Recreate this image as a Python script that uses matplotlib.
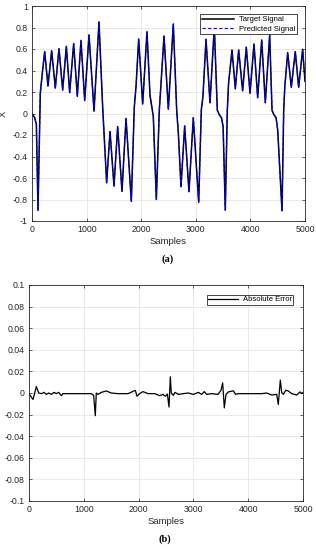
import matplotlib
matplotlib.use("Agg")
import matplotlib.pyplot as plt
from matplotlib.ticker import FuncFormatter

plt.rcParams['font.family'] = ['Liberation Sans', 'DejaVu Sans']

# ---- top panel: target / predicted signal ----
signal_samples = [0, 50, 80, 110, 152, 190, 232, 293, 360, 427, 494, 562, 629, 690,
                  763, 830, 897, 965, 1044, 1136, 1227, 1294, 1367, 1429, 1502, 1569,
                  1648, 1722, 1819, 1874, 1905, 1954, 2027, 2106, 2161, 2222, 2277,
                  2332, 2418, 2497, 2588, 2650, 2680, 2729, 2796, 2875, 2954, 3053,
                  3101, 3131, 3187, 3260, 3339, 3394, 3430, 3470, 3500, 3540, 3577,
                  3600, 3663, 3724, 3785, 3858, 3925, 3993, 4066, 4133, 4207, 4273,
                  4353, 4396, 4430, 4470, 4500, 4579, 4610, 4630, 4683, 4749, 4822,
                  4884, 4957, 5000]
target_signal = [0.0, -0.04, -0.10, -0.90, 0.19, 0.38, 0.575, 0.256, 0.584, 0.237,
                 0.603, 0.219, 0.625, 0.194, 0.65, 0.16, 0.68, 0.12, 0.73, 0.023,
                 0.851, 0.063, -0.644, -0.169, -0.674, -0.122, -0.724, -0.045, -0.817,
                 0.063, 0.25, 0.693, 0.088, 0.761, 0.17, -0.03, -0.80, 0.033, 0.72,
                 0.04, 0.833, 0.03, -0.18, -0.68, -0.116, -0.727, -0.039, -0.826,
                 0.033, 0.16, 0.69, 0.10, 0.807, 0.03, -0.01, -0.04, -0.12, -0.898,
                 0.03, 0.28, 0.59, 0.23, 0.59, 0.21, 0.616, 0.188, 0.647, 0.147,
                 0.684, 0.10, 0.73, 0.03, -0.01, -0.04, -0.153, -0.904, 0.03, 0.25,
                 0.566, 0.244, 0.575, 0.244, 0.597, 0.30]
predicted_signal = list(target_signal)

# ---- bottom panel: absolute error ----
error_samples = [0, 73, 134, 177, 225, 274, 316, 359, 408, 456, 499, 542, 590, 620,
                 800, 1000, 1137, 1180, 1210, 1228, 1259, 1320, 1411, 1502, 1624, 1807,
                 1940, 1971, 2019, 2080, 2171, 2293, 2385, 2445, 2490, 2525, 2555, 2579,
                 2597, 2633, 2664, 2725, 2816, 2907, 2998, 3090, 3150, 3199, 3242, 3327,
                 3449, 3504, 3534, 3564, 3595, 3637, 3728, 3771, 3820, 4064, 4246, 4337,
                 4428, 4520, 4549, 4586, 4611, 4641, 4684, 4732, 4793, 4885, 4945, 4976,
                 5000]
abs_error = [-0.0006, -0.006, 0.006, 0.0, -0.0006, 0.0006, -0.0013, 0.0, -0.0013,
             0.0006, -0.0006, 0.0006, -0.0025, -0.0006, -0.0006, -0.0006, -0.0006,
             -0.0022, -0.021, 0.0, -0.0013, 0.0006, 0.0019, 0.0, -0.0006, -0.0006,
             0.0025, -0.003, -0.0006, 0.0013, -0.0006, -0.0006, -0.0025, -0.0013,
             -0.003, -0.001, -0.013, 0.015, 0.0, -0.0022, 0.0006, -0.0013, -0.0006,
             0.0, -0.0013, 0.0006, -0.0013, 0.0013, -0.0013, -0.0006, -0.0013, 0.0025,
             0.0094, -0.0138, -0.0013, 0.001, 0.002, -0.0013, -0.0006, -0.0006,
             -0.0006, 0.0, -0.0019, -0.0013, -0.0106, 0.012, 0.0006, -0.0013, 0.0025,
             0.0019, -0.0006, -0.0019, 0.001, -0.0006, 0.0006]

x_ticks = [0, 1000, 2000, 3000, 4000, 5000]
signal_ticks = [-1, -0.8, -0.6, -0.4, -0.2, 0, 0.2, 0.4, 0.6, 0.8, 1]
error_ticks = [-0.1, -0.08, -0.06, -0.04, -0.02, 0, 0.02, 0.04, 0.06, 0.08, 0.1]

W, H = 316, 550
fig = plt.figure(figsize=(W / 100, H / 100), dpi=100)

def px_axes(l, t, r, b):
    return fig.add_axes([l / W, 1 - b / H, (r - l) / W, (b - t) / H])

edge = '#262626'
tick_fs = 6.3
fmt = FuncFormatter(lambda v, p: '%g' % round(v, 10))

def style(ax):
    ax.grid(True, color='#e6e6e6', linewidth=0.6)
    ax.set_axisbelow(True)
    for s in ax.spines.values():
        s.set_color(edge)
        s.set_linewidth(0.6)
    ax.tick_params(direction='in', length=2, width=0.5, colors=edge,
                   labelsize=tick_fs, top=True, right=True, pad=3)
    ax.set_xlim(0, 5000)
    ax.set_xticks(x_ticks)
    ax.yaxis.set_major_formatter(fmt)

# top
ax1 = px_axes(32, 6, 305, 221)
style(ax1)
ax1.plot(signal_samples, target_signal, color='black', lw=1.1, label='Target Signal')
ax1.plot(signal_samples, predicted_signal, color='blue', lw=0.8, ls=(0, (3, 2)),
         label='Predicted Signal')
ax1.set_ylim(-1, 1)
ax1.set_yticks(signal_ticks)
ax1.set_xlabel('Samples', fontsize=6.8, color=edge, labelpad=2)
ax1.set_ylabel('X', fontsize=6.8, color=edge)
ax1.yaxis.set_label_coords(-0.088, 0.5)
leg1 = ax1.legend(loc='upper right', bbox_to_anchor=(297 / W, 1 - 14 / H),
                  bbox_transform=fig.transFigure, borderaxespad=0, fontsize=5.5,
                  fancybox=False, framealpha=1, edgecolor=edge, handlelength=4.2,
                  handletextpad=0.6, labelspacing=0.25, borderpad=0.25)
leg1.get_frame().set_linewidth(0.6)

# bottom
ax2 = px_axes(29, 285, 303, 501)
style(ax2)
ax2.plot(error_samples, abs_error, color='black', lw=0.9, label='Absolute Error')
ax2.set_ylim(-0.1, 0.1)
ax2.set_yticks(error_ticks)
ax2.set_xlabel('Samples', fontsize=6.8, color=edge, labelpad=2)
leg2 = ax2.legend(loc='upper right', bbox_to_anchor=(293 / W, 1 - 295 / H),
                  bbox_transform=fig.transFigure, borderaxespad=0, fontsize=5.5,
                  fancybox=False, framealpha=1, edgecolor=edge, handlelength=4.0,
                  handletextpad=0.6, borderpad=0.15)
leg2.get_frame().set_linewidth(0.6)

fig.text(168 / W, 1 - 259 / H, '(a)', ha='center', va='center', fontsize=7.5,
         fontweight='bold', family='Liberation Serif')
fig.text(165 / W, 1 - 539 / H, '(b)', ha='center', va='center', fontsize=7.5,
         fontweight='bold', family='Liberation Serif')

fig.savefig('out.png', dpi=100)
